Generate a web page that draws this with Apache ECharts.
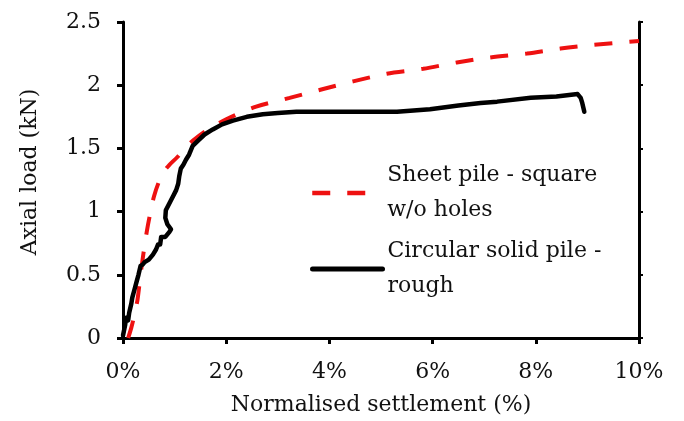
<!DOCTYPE html>
<html>
<head>
<meta charset="utf-8">
<script src="https://cdn.jsdelivr.net/npm/echarts@6/dist/echarts.min.js"></script>
<style>
  html, body { margin: 0; padding: 0; background: #fff; }
  #chart { width: 684px; height: 421px; }
</style>
</head>
<body>
<div id="chart"></div>
<script>
// Normalised settlement (%) and axial load (kN)
var sheetPileX = [0.10, 0.16, 0.22, 0.28, 0.34, 0.40, 0.46, 0.52, 0.60, 0.70, 0.80, 0.90, 1.05, 1.20, 1.35, 1.65, 2.00, 2.58, 3.23, 3.88, 4.46, 5.11, 5.82, 6.47, 7.12, 7.83, 8.48, 9.13, 10.00];
var sheetPileY = [0.00, 0.08, 0.18, 0.30, 0.50, 0.68, 0.84, 0.97, 1.12, 1.24, 1.32, 1.37, 1.43, 1.50, 1.56, 1.65, 1.73, 1.83, 1.90, 1.97, 2.03, 2.09, 2.13, 2.18, 2.22, 2.25, 2.29, 2.32, 2.35];

var circularX = [0.00, 0.04, 0.06, 0.10, 0.12, 0.16, 0.18, 0.22, 0.26, 0.30, 0.34, 0.38, 0.42, 0.50, 0.58, 0.64, 0.68, 0.72, 0.74, 0.82, 0.86, 0.90, 0.93, 0.86, 0.82, 0.83, 0.88, 0.93, 0.98, 1.03, 1.07, 1.09, 1.12, 1.17, 1.22, 1.28, 1.35, 1.45, 1.58, 1.74, 1.92, 2.13, 2.40, 2.71, 3.00, 3.36, 4.33, 5.31, 5.95, 6.50, 6.93, 7.25, 7.90, 8.40, 8.81, 8.87, 8.90, 8.94];
var circularY = [0.02, 0.10, 0.16, 0.14, 0.20, 0.27, 0.32, 0.38, 0.44, 0.50, 0.57, 0.58, 0.60, 0.62, 0.66, 0.70, 0.74, 0.74, 0.80, 0.80, 0.82, 0.84, 0.86, 0.90, 0.95, 1.01, 1.05, 1.09, 1.13, 1.17, 1.22, 1.28, 1.34, 1.37, 1.41, 1.45, 1.52, 1.56, 1.61, 1.65, 1.69, 1.72, 1.75, 1.77, 1.78, 1.79, 1.79, 1.79, 1.81, 1.84, 1.86, 1.87, 1.90, 1.91, 1.93, 1.90, 1.86, 1.79];

var xTicks = [0, 2, 4, 6, 8, 10];
var yTicks = [0, 0.5, 1, 1.5, 2, 2.5];

var seriesNames = ['Sheet pile - square\nw/o holes', 'Circular solid pile -\nrough'];

function pairs(xs, ys) {
  var out = [];
  for (var i = 0; i < xs.length; i++) out.push([xs[i], ys[i]]);
  return out;
}

var FONT = 'DejaVu Serif';
var FS = 22;
var LH = 35;
var textBase = { fontFamily: FONT, fontSize: FS, color: '#111' };
var RED = '#ee1111';
var DASH = [18, 17];

var chart = echarts.init(document.getElementById('chart'), null, { renderer: 'canvas' });

var axisLineStyle = { color: '#000', width: 3 };

function legendFor(name, iconY, lineStyle) {
  return {
    data: [name],
    left: 310, top: iconY - 1.5 * LH,
    padding: 0,
    itemWidth: 70, itemHeight: 14,
    itemStyle: { opacity: 0 },
    lineStyle: lineStyle,
    textStyle: { fontFamily: FONT, fontSize: FS, color: '#111', lineHeight: LH, padding: [LH, 0, 0, 0] }
  };
}

chart.setOption({
  animation: false,
  backgroundColor: '#fff',
  grid: { left: 123, right: 45, top: 22, bottom: 83, containLabel: false },
  legend: [
    legendFor(seriesNames[0], 193, { color: RED, width: 4.5, type: DASH }),
    legendFor(seriesNames[1], 269, { color: '#000', width: 5, type: 'solid' })
  ],
  xAxis: {
    type: 'value',
    min: xTicks[0], max: xTicks[xTicks.length - 1], interval: 2,
    name: 'Normalised settlement (%)',
    nameLocation: 'middle', nameGap: 56,
    nameTextStyle: textBase,
    axisLine: { show: true, onZero: false, lineStyle: axisLineStyle },
    axisTick: { show: true, inside: false, length: 6, lineStyle: { color: '#000', width: 3 } },
    axisLabel: { margin: 23, fontFamily: FONT, fontSize: FS, color: '#111', formatter: '{value}%' },
    splitLine: { show: false }
  },
  yAxis: [
    {
      type: 'value',
      min: yTicks[0], max: yTicks[yTicks.length - 1], interval: 0.5,
      name: 'Axial load (kN)',
      nameLocation: 'middle', nameGap: 82,
      nameTextStyle: Object.assign({}, textBase, { padding: [0, 0, 0, 16] }),
      axisLine: { show: true, onZero: false, lineStyle: axisLineStyle },
      axisTick: { show: true, inside: false, length: 6, lineStyle: { color: '#000', width: 3 } },
      axisLabel: { margin: 22, fontFamily: FONT, fontSize: FS, color: '#111' },
      splitLine: { show: false }
    },
    {
      type: 'value', position: 'right',
      min: yTicks[0], max: yTicks[yTicks.length - 1], interval: 0.5,
      axisLine: { show: true, onZero: false, lineStyle: axisLineStyle },
      axisTick: { show: true, inside: false, length: 4, lineStyle: { color: '#000', width: 2 } },
      axisLabel: { show: false },
      splitLine: { show: false }
    }
  ],
  series: [
    {
      name: seriesNames[0],
      type: 'line',
      data: pairs(sheetPileX, sheetPileY),
      smooth: 0.3,
      symbol: 'none',
      lineStyle: { color: RED, width: 4, type: DASH },
      itemStyle: { color: RED },
      z: 3
    },
    {
      name: seriesNames[1],
      type: 'line',
      data: pairs(circularX, circularY),
      symbol: 'none',
      lineStyle: { color: '#000', width: 4.5, join: 'round', cap: 'round' },
      itemStyle: { color: '#000' },
      z: 4
    }
  ]
});
</script>
</body>
</html>
